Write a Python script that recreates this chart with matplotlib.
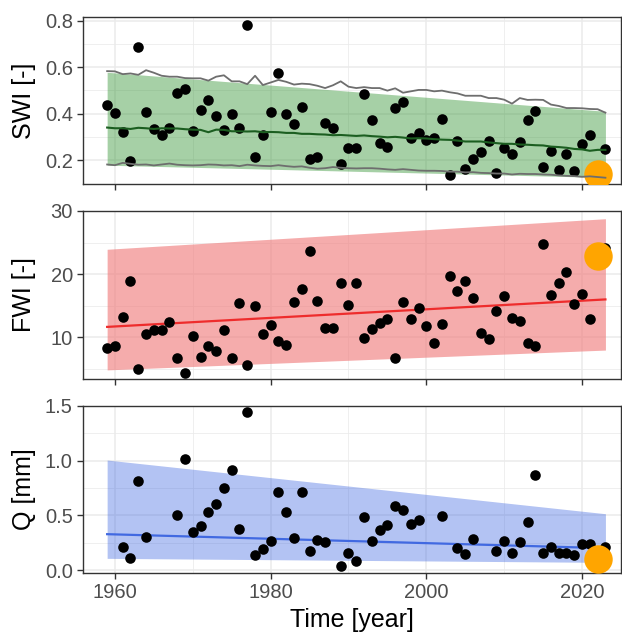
import numpy as np
import matplotlib
matplotlib.use("Agg")
import matplotlib.pyplot as plt
from matplotlib.ticker import MultipleLocator

plt.rcParams['font.family'] = ['Liberation Sans', 'DejaVu Sans']

years = np.arange(1959, 2024)

swi = [0.439, 0.403, 0.323, 0.195, 0.685, 0.407, 0.334, 0.310, 0.340, 0.490,
       0.507, 0.324, 0.417, 0.460, 0.390, 0.328, 0.400, 0.336, 0.780, 0.215,
       0.307, 0.408, 0.573, 0.400, 0.357, 0.430, 0.204, 0.214, 0.358, 0.340,
       0.184, 0.250, 0.254,
       0.484, 0.373, 0.273, 0.258, 0.424, 0.450, 0.294, 0.317, 0.287, 0.293,
       0.377, 0.134, 0.284, 0.163, 0.203, 0.236, 0.281, 0.144, 0.254, 0.225,
       0.279, 0.373, 0.412, 0.170, 0.240, 0.157, 0.225, 0.151, 0.268, 0.306,
       0.138, 0.247]
swi_upper = [0.583, 0.582, 0.570, 0.573, 0.567, 0.587, 0.576, 0.563, 0.559, 0.559,
             0.553, 0.552, 0.552, 0.542, 0.559, 0.565, 0.539, 0.539, 0.527, 0.563,
             0.523, 0.534, 0.545, 0.537, 0.525, 0.529, 0.527, 0.520, 0.510, 0.522,
             0.539, 0.516, 0.510,
             0.514, 0.510, 0.510, 0.499, 0.509, 0.490, 0.496, 0.502, 0.502, 0.496,
             0.499, 0.492, 0.487, 0.477, 0.477, 0.477, 0.467, 0.467, 0.460, 0.443,
             0.467, 0.459, 0.460, 0.459, 0.439, 0.433, 0.424, 0.424, 0.423, 0.420,
             0.419, 0.404]
swi_lower = [0.181, 0.178, 0.188, 0.184, 0.180, 0.181, 0.177, 0.181, 0.185, 0.180,
             0.178, 0.177, 0.178, 0.181, 0.180, 0.177, 0.178, 0.174, 0.180, 0.177,
             0.175, 0.174, 0.178, 0.174, 0.171, 0.173, 0.167, 0.163, 0.165, 0.170,
             0.167, 0.165, 0.164,
             0.165, 0.165, 0.163, 0.160, 0.158, 0.161, 0.158, 0.155, 0.154, 0.154,
             0.153, 0.150, 0.150, 0.147, 0.148, 0.145, 0.144, 0.142, 0.142, 0.138,
             0.141, 0.140, 0.140, 0.138, 0.137, 0.134, 0.132, 0.131, 0.128, 0.130,
             0.127, 0.124]
swi_mean = [0.340, 0.337, 0.337, 0.334, 0.339, 0.337, 0.334, 0.337, 0.336, 0.336,
            0.333, 0.331, 0.330, 0.320, 0.331, 0.330, 0.324, 0.324, 0.323, 0.324,
            0.320, 0.321, 0.320, 0.317, 0.317, 0.313, 0.313, 0.311, 0.310, 0.307,
            0.308, 0.306, 0.304,
            0.306, 0.303, 0.301, 0.298, 0.300, 0.297, 0.293, 0.294, 0.293, 0.290,
            0.288, 0.287, 0.284, 0.280, 0.280, 0.280, 0.276, 0.273, 0.270, 0.270,
            0.267, 0.266, 0.264, 0.263, 0.258, 0.256, 0.253, 0.248, 0.246, 0.240,
            0.244, 0.244]

fwi = [8.24, 8.56, 13.24, 18.94, 5.05, 10.48, 11.12, 11.12, 12.50, 6.70,
       4.41, 10.21, 6.86, 8.56, 7.82, 11.17, 6.76, 15.37, 5.69, 14.95,
       10.53, 11.91, 9.36, 8.83, 15.64, 17.71, 23.67, 15.80, 11.49, 11.49,
       18.62, 15.16, 18.67,
       9.84, 11.33, 12.34, 12.87, 6.70, 15.53, 12.93, 14.68, 11.86, 9.10,
       12.13, 19.68, 17.29, 18.99, 16.17, 10.69, 9.79, 14.20, 16.60, 13.09,
       12.55, 9.10, 8.67, 24.73, 16.65, 18.62, 20.37, 15.21, 16.86, 12.93,
       22.87, 24.10]

nan = np.nan
q = [nan, nan, 0.215, 0.107, 0.813, 0.300, nan, nan, nan, 0.503,
     1.015, 0.347, 0.399, 0.531, 0.607, 0.752, 0.917, 0.377, 1.448, 0.135,
     0.193, 0.267, 0.718, 0.531, 0.294, 0.712, 0.172, 0.279, 0.255, nan,
     0.040, 0.153, 0.080,
     0.485, 0.270, 0.362, 0.408, 0.589, 0.546, 0.420, 0.457, nan, nan,
     0.497, nan, 0.200, 0.147, 0.282, nan, nan, 0.175, 0.270, 0.156,
     0.255, 0.442, 0.865, 0.160, 0.209, 0.153, 0.153, 0.141, 0.242, 0.236,
     0.101, 0.209]

# trend + interval end points (first and last year)
band_years = [1959, 2023]
swi_band_lo = [0.178, 0.125]
swi_band_hi = [0.578, 0.410]
fwi_band_lo = [4.84, 7.98]
fwi_band_hi = [23.94, 28.78]
fwi_trend = [11.65, 16.0]
q_band_lo = [0.107, 0.070]
q_band_hi = [1.006, 0.515]
q_trend = [0.328, 0.200]

hl_year = 2022
hl_swi = 0.138
hl_fwi = 22.87
hl_q = 0.101

fig = plt.figure(figsize=(6.22, 6.36), dpi=100)
L, W = 83 / 622, 538 / 622
boxes = [(17, 184), (211, 379), (406, 573)]
axes = []
for top, bot in boxes:
    ax = fig.add_axes([L, 1 - bot / 636, W, (bot - top) / 636])
    axes.append(ax)
ax1, ax2, ax3 = axes

for ax in axes:
    ax.set_facecolor('white')
    for s in ax.spines.values():
        s.set_color('#333333')
        s.set_linewidth(1.0)
    ax.set_xlim(1955.9, 2025.0)
    ax.xaxis.set_major_locator(MultipleLocator(20))
    ax.xaxis.set_minor_locator(MultipleLocator(10))
    ax.grid(True, which='major', color='#ebebeb', linewidth=1.1, zorder=0)
    ax.grid(True, which='minor', color='#ebebeb', linewidth=0.55, zorder=0)
    ax.set_axisbelow(True)
    ax.tick_params(axis='both', which='major', length=4.3, width=1.0, color='#333333',
                   labelcolor='#4d4d4d', labelsize=14.5, pad=3)
    ax.tick_params(axis='both', which='minor', length=0)

ax1.tick_params(axis='x', labelbottom=False)
ax2.tick_params(axis='x', labelbottom=False)

dot = dict(s=58, color='black', linewidths=0, zorder=4)
big = dict(s=420, color='#ffa500', linewidths=0, zorder=5)

# SWI
ax1.fill_between(band_years, swi_band_lo, swi_band_hi, color='forestgreen', alpha=0.4,
                 linewidth=0, zorder=1)
ax1.scatter(years, swi, **dot)
ax1.scatter([hl_year], [hl_swi], **big)
ax1.plot(years, swi_upper, color='#6e6e6e', linewidth=1.3, zorder=6)
ax1.plot(years, swi_lower, color='#6e6e6e', linewidth=1.3, zorder=6)
ax1.plot(years, swi_mean, color='#1b5e20', linewidth=1.5, zorder=6)
ax1.set_ylim(0.097, 0.816)
ax1.set_yticks([0.2, 0.4, 0.6, 0.8])
ax1.set_yticks([0.3, 0.5, 0.7], minor=True)
ax1.set_ylabel('SWI [-]', fontsize=18)

# FWI
ax2.fill_between(band_years, fwi_band_lo, fwi_band_hi, color='#f08080', alpha=0.65,
                 linewidth=0, zorder=1)
ax2.plot(band_years, fwi_trend, color='#ee2c2c', linewidth=1.6, zorder=3)
ax2.scatter(years, fwi, **dot)
ax2.scatter([hl_year], [hl_fwi], **big)
ax2.set_ylim(3.4, 30.0)
ax2.set_yticks([10, 20, 30])
ax2.set_yticks([5, 15, 25], minor=True)
ax2.set_ylabel('FWI [-]', fontsize=18)

# Q
ax3.fill_between(band_years, q_band_lo, q_band_hi, color='royalblue', alpha=0.4,
                 linewidth=0, zorder=1)
ax3.plot(band_years, q_trend, color='royalblue', linewidth=1.6, zorder=3)
ax3.scatter(years, q, **dot)
ax3.scatter([hl_year], [hl_q], **big)
ax3.set_ylim(-0.027, 1.5)
ax3.set_yticks([0.0, 0.5, 1.0, 1.5])
ax3.set_yticks([0.25, 0.75, 1.25], minor=True)
ax3.set_yticklabels(['0.0', '0.5', '1.0', '1.5'])
ax3.set_ylabel('Q [mm]', fontsize=18)
ax3.set_xlabel('Time [year]', fontsize=18, labelpad=4)

for ax in axes:
    ax.yaxis.set_label_coords(-0.088, 0.5)

fig.savefig('out.png', dpi=100)
